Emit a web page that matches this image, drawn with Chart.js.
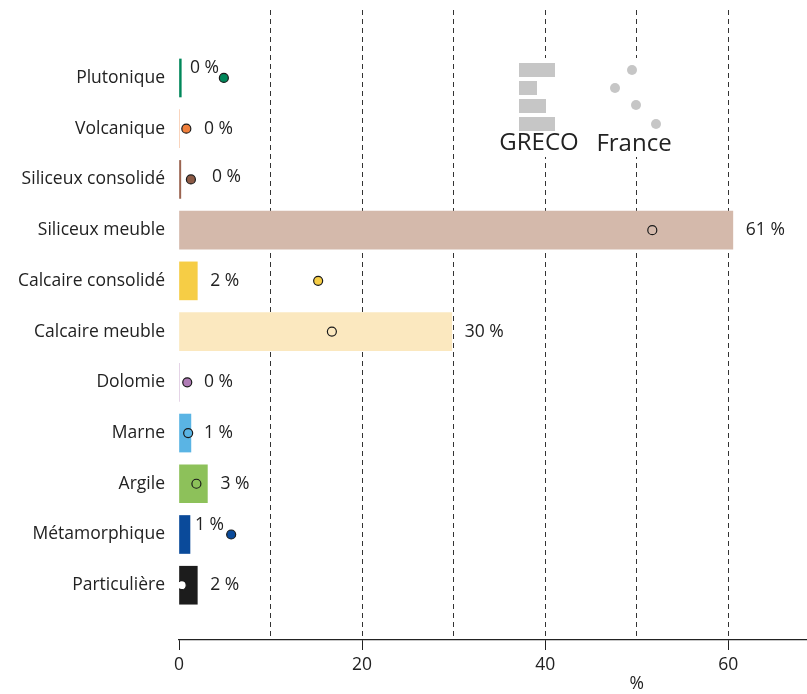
<!DOCTYPE html>
<html>
<head>
<meta charset="utf-8">
<script src="https://cdn.jsdelivr.net/npm/chart.js@4/dist/chart.umd.min.js"></script>
<style>
  html, body { margin: 0; padding: 0; background: #fff; }
  #wrap { width: 807px; height: 694px; }
</style>
</head>
<body>
<div id="wrap"><canvas id="c" width="807" height="694"></canvas></div>
<script>
// Lithologie : part GRECO (barres) et France (points), en %
const categories = ['Plutonique', 'Volcanique', 'Siliceux consolidé', 'Siliceux meuble', 'Calcaire consolidé',
  'Calcaire meuble', 'Dolomie', 'Marne', 'Argile', 'Métamorphique', 'Particulière'];
const grecoValues = [0.25, 0, 0.2, 60.5, 2.0, 29.8, 0, 1.3, 3.1, 1.2, 2.0];
const franceValues = [4.9, 0.8, 1.3, 51.7, 15.2, 16.7, 0.9, 1.0, 1.9, 5.7, 0.3];
const barColors = ['#00875a', '#f07f3c', '#9a6450', '#d4b9ab', '#f6cd45', '#fbe8bf',
  '#b07cb6', '#5ab4e4', '#8dc15a', '#0a4a9a', '#1c1c1c'];
const dotColors = ['#00875a', '#f07f3c', '#8c5a45', '#d4b9ab', '#f6cd45', '#fbe8bf',
  '#b07cb6', '#5ab4e4', '#8dc15a', '#0a4a9a', '#ffffff'];
const xTicks = [0, 10, 20, 30, 40, 50, 60];

const FONT = '"Open Sans", sans-serif';
const FS = 17.5;
const INK = '#222';

// petits décalages manuels des étiquettes (comme sur l'original)
const labelNudge = { 0: { dx: -14, dy: -10 }, 9: { dx: -9, dy: -9 }, 2: { dx: 8, dy: -2 } };

const valueLabels = {
  id: 'valueLabels',
  afterDatasetsDraw(chart) {
    const { ctx, scales: { x, y } } = chart;
    ctx.save();
    ctx.font = FS + 'px ' + FONT;
    ctx.fillStyle = INK;
    ctx.textBaseline = 'middle';
    ctx.textAlign = 'left';
    grecoValues.forEach((v, i) => {
      const n = labelNudge[i] || { dx: 0, dy: 0 };
      const px = Math.max(x.getPixelForValue(v) + 13, x.getPixelForValue(0) + 25) + n.dx;
      ctx.fillText(Math.round(v) + ' %', px, y.getPixelForValue(i) + n.dy);
    });
    ctx.restore();
  }
};

const legendAndTitle = {
  id: 'legendAndTitle',
  afterDraw(chart) {
    const { ctx, scales: { x } } = chart;
    ctx.save();
    // fond blanc de la légende (masque la grille)
    ctx.fillStyle = '#fff';
    ctx.fillRect(497, 58, 180, 99);
    ctx.fillStyle = '#c6c6c6';
    [36, 18, 27, 36].forEach((w, k) => ctx.fillRect(519, 63 + k * 18, w, 14));
    [[632, 70], [615, 88], [636, 105], [656, 124]].forEach(([cx, cy]) => {
      ctx.beginPath(); ctx.arc(cx, cy, 5, 0, Math.PI * 2); ctx.fill();
    });
    ctx.fillStyle = INK;
    ctx.font = '24px ' + FONT;
    ctx.textBaseline = 'middle';
    ctx.textAlign = 'center';
    ctx.fillText('GRECO', 539, 143);
    ctx.fillText('France', 634, 144);
    ctx.font = FS + 'px ' + FONT;
    ctx.fillText('%', x.getPixelForValue(50), 684);
    ctx.restore();
  }
};

new Chart(document.getElementById('c'), {
  type: 'bar',
  data: {
    datasets: [
      {
        type: 'scatter',
        label: 'France',
        data: franceValues.map((v, i) => ({ x: v, y: i })),
        backgroundColor: dotColors,
        borderColor: '#1a1a1a',
        borderWidth: 1.2,
        pointRadius: 4.5,
        order: 0
      },
      {
        label: 'GRECO',
        data: grecoValues.map((v, i) => ({ x: v, y: i })),
        backgroundColor: barColors,
        borderWidth: 0,
        barThickness: 38,
        order: 1
      }
    ]
  },
  options: {
    indexAxis: 'y',
    responsive: false,
    animation: false,
    layout: { autoPadding: false, padding: { top: 10, right: 0, left: 0, bottom: 0 } },
    plugins: { legend: { display: false }, tooltip: { enabled: false } },
    scales: {
      x: {
        type: 'linear',
        min: 0,
        max: 68.6,
        offset: false,
        afterBuildTicks: s => { s.ticks = xTicks.map(v => ({ value: v })); },
        afterFit: s => { s.height = 54; s.paddingRight = 0; s.paddingLeft = 0; },
        ticks: {
          color: INK,
          font: { family: FONT, size: FS },
          padding: 5,
          maxRotation: 0,
          callback: v => (v % 20 === 0 ? v : '')
        },
        grid: {
          color: c => (c.tick && c.tick.value === 0 ? 'rgba(0,0,0,0)' : '#333'),
          tickColor: c => (c.tick && c.tick.value % 20 === 0 ? INK : 'rgba(0,0,0,0)'),
          tickLength: 10,
          lineWidth: 1
        },
        border: { display: true, color: INK, width: 1.2, dash: [5, 4] }
      },
      y: {
        type: 'linear',
        reverse: true,
        offset: false,
        min: -1.34,
        max: 11.08,
        afterBuildTicks: s => { s.ticks = categories.map((_, i) => ({ value: i })); },
        afterFit: s => { s.width = 179; s.paddingTop = 0; s.paddingBottom = 0; },
        ticks: {
          color: INK,
          font: { family: FONT, size: FS },
          padding: 6,
          callback: v => categories[v] ?? ''
        },
        grid: { display: false },
        border: { display: false }
      }
    }
  },
  plugins: [valueLabels, legendAndTitle]
});
</script>
</body>
</html>
